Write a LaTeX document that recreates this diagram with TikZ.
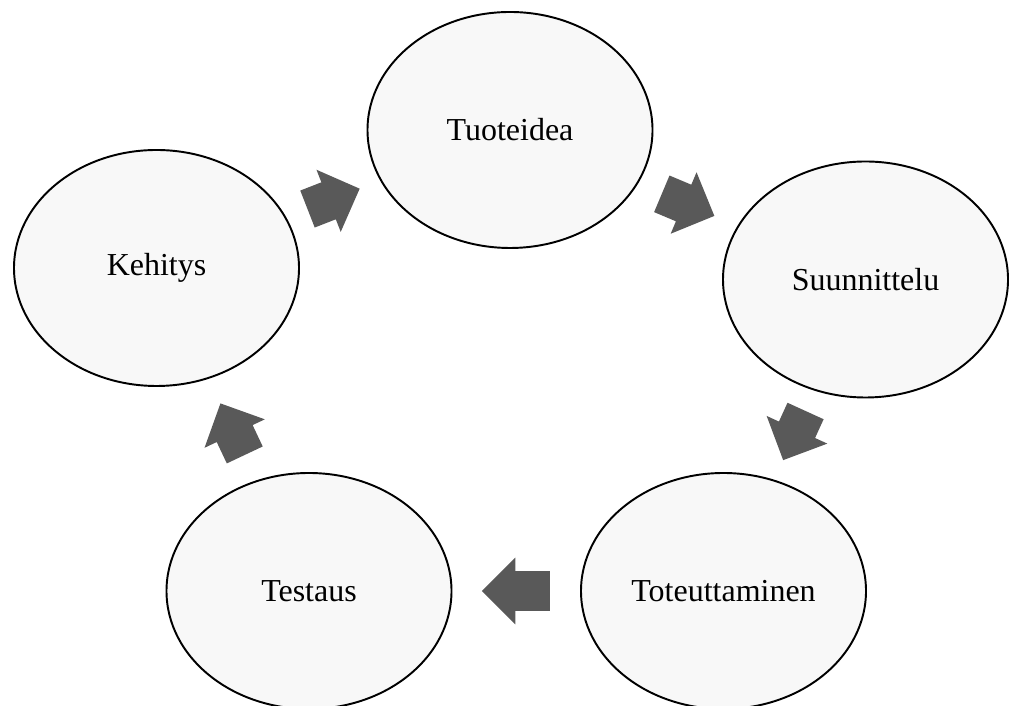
\documentclass[tikz,border=0pt]{standalone}
\usepackage{fontspec}
\setmainfont{Liberation Serif}
\usetikzlibrary{shapes.geometric, shapes.arrows, calc}
\definecolor{phasefill}{RGB}{248,248,248}
\definecolor{arrowgray}{RGB}{89,89,89}

\begin{document}
\begin{tikzpicture}[
    phase/.style={ellipse, draw=black, line width=1.1pt, fill=phasefill,
        minimum width=5.70cm, minimum height=4.72cm, inner sep=0pt,
        font=\fontsize{18.2}{22}\selectfont},
    cycarrow/.style={single arrow, fill=arrowgray, draw=none, inner xsep=0pt,
        inner ysep=0.39cm, single arrow head extend=0.27cm,
        minimum width=1.32cm, minimum height=#1, anchor=tail}
]
    % Page size
    \useasboundingbox (0,0) rectangle (20.18,14.12);

    % Phases of the cycle
    \node[phase] (tuoteidea) at (10.20,11.52) {Tuoteidea};
    \node[phase] (suunnittelu) at (17.31,8.53) {Suunnittelu};
    \node[phase] (toteutus) at (14.47,2.30) {Toteuttaminen};
    \node[phase] (testaus) at (6.18,2.30) {Testaus};
    \node[phase] (kehitys) at (3.13,8.76) {Kehitys};

    % Block arrows between the phases (tail placed half a length before the midpoint)
    \path let \p1 = ($(tuoteidea)-(kehitys)$), \n1 = {atan2(\y1,\x1)} in
        node[cycarrow=1.12cm, rotate=\n1] (kehtotuo)
        at ($(kehitys)!0.5!(tuoteidea)!-0.56cm!(tuoteidea)$) {};
    \path let \p1 = ($(suunnittelu)-(tuoteidea)$), \n1 = {atan2(\y1,\x1)} in
        node[cycarrow=1.14cm, rotate=\n1] (tuotosuu)
        at ($(tuoteidea)!0.5!(suunnittelu)!-0.57cm!(suunnittelu)$) {};
    \path let \p1 = ($(toteutus)-(suunnittelu)$), \n1 = {atan2(\y1,\x1)} in
        node[cycarrow=1.08cm, rotate=\n1] (suutotot)
        at ($(suunnittelu)!0.5!(toteutus)!-0.54cm!(toteutus)$) {};
    \path let \p1 = ($(testaus)-(toteutus)$), \n1 = {atan2(\y1,\x1)} in
        node[cycarrow=1.36cm, rotate=\n1] (tottotes)
        at ($(toteutus)!0.5!(testaus)!-0.68cm!(testaus)$) {};
    \path let \p1 = ($(kehitys)-(testaus)$), \n1 = {atan2(\y1,\x1)} in
        node[cycarrow=1.14cm, rotate=\n1] (testokeh)
        at ($(testaus)!0.5!(kehitys)!-0.57cm!(kehitys)$) {};
\end{tikzpicture}
\end{document}
